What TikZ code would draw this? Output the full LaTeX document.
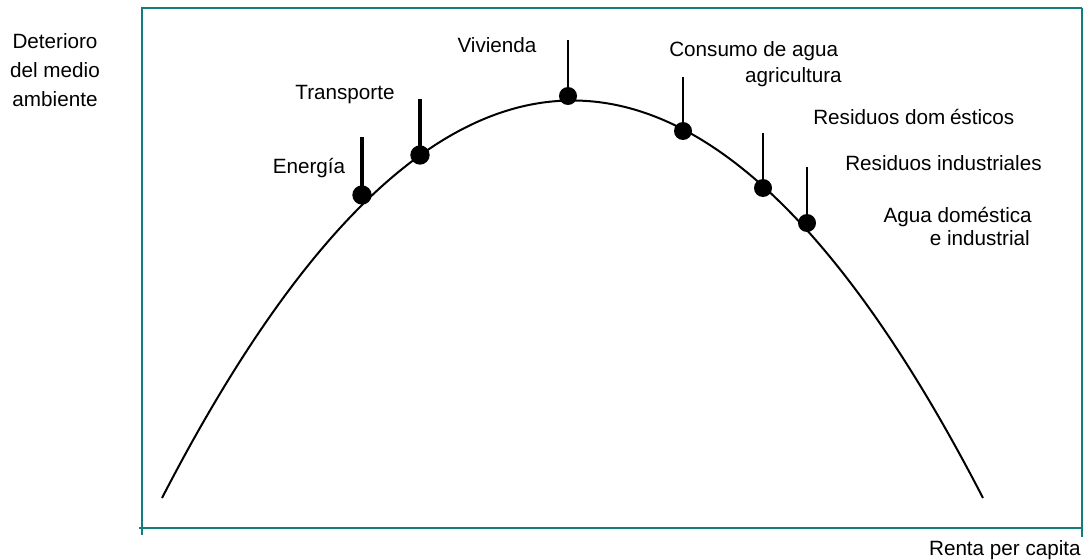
\documentclass[tikz,border=0pt]{standalone}
\usepackage{fontspec}
\setmainfont{Liberation Sans}
\definecolor{frameteal}{RGB}{20,125,125}
\tikzset{
  frameline/.style={draw=frameteal, line width=1.5pt},
  curveline/.style={draw=black, line width=1.5pt},
  dotmark/.style={circle, fill=black, inner sep=0pt, minimum size=#1},
  dotmark/.default=13,
  stemthick/.style={draw=black, line width=2.4pt},
  stemthin/.style={draw=black, line width=1.6pt},
  lbl/.style={inner sep=0pt, font=\fontsize{15.5pt}{18pt}\selectfont},
}
\begin{document}
\begin{tikzpicture}[x=0.75pt, y=-0.75pt]
\useasboundingbox (0,0) rectangle (1086,560);
% frame
\coordinate (tl) at (142,8);
\coordinate (tr) at (1082,8);
\coordinate (bl) at (142,528);
\coordinate (br) at (1082,528);
\draw[frameline] (141,8) -- (tr);
\draw[frameline] (tl) -- (142,535);
\draw[frameline] (139,528) -- (br);
\draw[frameline] (tr) -- (1082,537);
% curve (parabola)
\coordinate (cstart) at (162,498);
\coordinate (cend) at (983,498);
\draw[curveline] (cstart) .. controls (435.67,-32) and (709.33,-32) .. (cend);
% dots
\node[dotmark=14.5] (dEn) at (362,195) {};
\node[dotmark=14.5] (dTr) at (420,155) {};
\node[dotmark=13.5] (dVi) at (568,96) {};
\node[dotmark=13.5] (dCo) at (683,131) {};
\node[dotmark=13.5] (dRd) at (763,188) {};
\node[dotmark=13.5] (dRi) at (807,223) {};
% stems
\coordinate (sEn) at (362,137);
\coordinate (sTr) at (420,99);
\coordinate (sVi) at (568,40);
\coordinate (sCo) at (683,77);
\coordinate (sRd) at (763,133);
\coordinate (sRi) at (807,167);
\draw[stemthick] (sEn) -- (dEn.center);
\draw[stemthick] (sTr) -- (dTr.center);
\draw[stemthin] (sVi) -- (dVi.center);
\draw[stemthin] (sCo) -- (dCo.center);
\draw[stemthin] (sRd) -- (dRd.center);
\draw[stemthin] (sRi) -- (dRi.center);
% axis labels
\node[lbl, anchor=base] (yl1) at (55,49) {Deterioro};
\node[lbl, anchor=base] (yl2) at (55,78) {del medio};
\node[lbl, anchor=base] (yl3) at (55,107) {ambiente};
\node[lbl, anchor=base east] (xl) at (1081,555) {Renta per capita};
% item labels
\node[lbl, anchor=base] (lEn) at (309,173) {Energía};
\node[lbl, anchor=base] (lTr) at (345,99) {Transporte};
\node[lbl, anchor=base] (lVi) at (497,53) {Vivienda};
\node[lbl, anchor=base west] (lCo1) at (669,57) {Consumo de agua};
\node[lbl, anchor=base east] (lCo2) at (842,83) {agricultura};
\node[lbl, anchor=base west] (lRd) at (813,124) {Residuos dom\kern3.5pt ésticos};
\node[lbl, anchor=base west] (lRi) at (845,171) {Residuos industriales};
\node[lbl, anchor=base east] (lAg1) at (1032,222) {Agua doméstica};
\node[lbl, anchor=base east] (lAg2) at (1030,245) {e industrial};
\end{tikzpicture}
\end{document}
